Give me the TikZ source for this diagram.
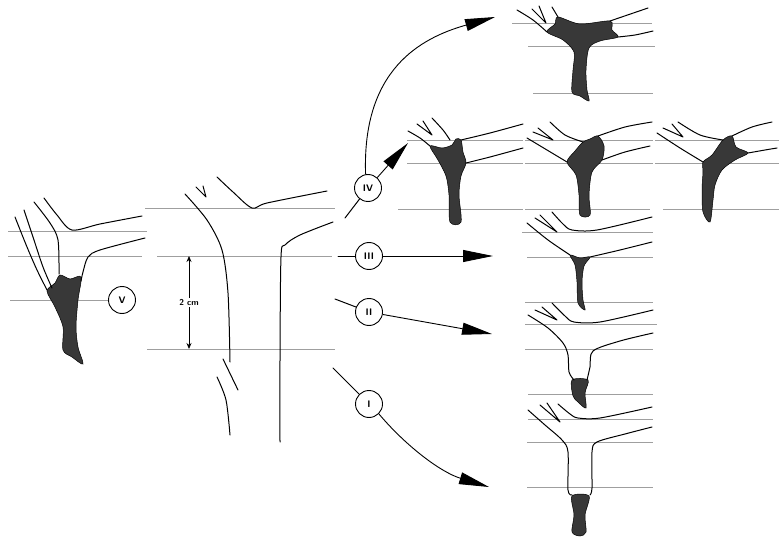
\documentclass[tikz,border=0pt]{standalone}
\usepackage{tikz}
\usetikzlibrary{arrows.meta,calc}

\begin{document}
\begin{tikzpicture}[x=1pt,y=-1pt,
    level/.style={gray!75,line width=0.8pt},
    wall/.style={line width=1pt,line cap=round,line join=round},
    clot/.style={fill=black!78,draw=black,line width=0.5pt},
    stage/.style={circle,draw,line width=0.9pt,minimum size=27pt,inner sep=0pt,fill=white,font=\sffamily\bfseries\fontsize{9.5}{9.5}\selectfont},
    big/.style={-{Triangle[length=30pt,width=12pt]},line width=0.9pt}]
\useasboundingbox (0,0) rectangle (779,540);

      \node[stage](cV) at (122,300){V};
      \node[stage](cIV) at (368,188){IV};
      \node[stage](cIII) at (369,256){III};
      \node[stage](cII) at (369,312){II};
      \node[stage](cI) at (369,404){I};

      \draw[level](8,231)--(147,231);
      \draw[level](8,256)--(142,256);
      \draw[level](10,300)--(cV);
      \fill[clot]plot[smooth cycle]coordinates{(47,291)(55,283)(60,275)(70,279)(81,277)(78,300)(76,327)(78,347)(83,364)(72,357)(63,350)(63,327)(55,307)};
      \draw[wall]plot[smooth]coordinates{(15,217)(27,247)(37,270)(47,290)};
      \draw[wall]plot[smooth]coordinates{(24,210)(33,237)(43,267)(52,288)};
      \draw[wall]plot[smooth]coordinates{(34,202)(50,223)(58,240)(59,274)};
      \draw[wall]plot[smooth]coordinates{(44,198)(57,215)(72,230)(100,224)(142,216)};
      \draw[wall]plot[smooth]coordinates{(145,238)(100,250)(88,257)(83,272)(81,281)};

      \draw[level](145,208)--(335,208);
      \draw[level](157,256)--(332,256);
      \draw[level](147,349)--(335,349);
      \draw[wall]plot[smooth]coordinates{(185,194)(207,220)(222,250)(228,293)(230,362)};
      \draw[wall](223,359)--(238,390);
      \draw[wall]plot[smooth]coordinates{(217,377)(226,400)(230,435)};
      \draw[wall](196,187)--(206,197)--(203,186);
      \draw[wall]plot[smooth]coordinates{(217,177)(233,192)(252,208)(267,203)(327,191)};
      \draw[wall]plot[smooth]coordinates{(333,222)(300,235)(285,245)(281,257)(280,360)(280,442)};
      \coordinate(top) at (189,256);
      \coordinate(bot) at (189,349);
      \draw[{Stealth[length=6pt,width=5pt]}-{Stealth[length=6pt,width=5pt]},line width=0.8pt](top)--(bot)
        node[midway,fill=white,inner sep=1pt,font=\sffamily\bfseries\fontsize{8.5}{8.5}\selectfont]{2 cm};

      \coordinate(inIV) at (345,218);
      \coordinate(tipIVa) at (408,143);
      \coordinate(tipIVb) at (495,17);
      \draw[wall](inIV)--(cIV);
      \draw[big](cIV)--(tipIVa);
      \draw[big](cIV.100) .. controls (362,70) and (420,38) .. (tipIVb);
      \coordinate(inIII) at (338,256);
      \coordinate(tipIII) at (493,256);
      \draw[wall](inIII)--(cIII);
      \draw[big](cIII)--(tipIII);
      \coordinate(inII) at (335,299);
      \coordinate(tipII) at (492,334);
      \draw[wall](inII)--(cII);
      \draw[big](cII)--(tipII);
      \coordinate(inI) at (333,368);
      \coordinate(tipI) at (489,487);
      \draw[wall](inI)--(cI);
      \draw[big](cI.-45) .. controls (405,445) and (440,472) .. (tipI);

      \draw[level](512,23)--(652,23);
      \draw[level](528,46)--(655,46);
      \draw[level](533,93)--(653,93);
      \fill[clot]plot[smooth cycle]coordinates{(547,32)(555,24)(558,17)(580,24)(610,21)(612,30)(618,37)(600,41)(589,48)(586,70)(587,90)(589,101)(580,96)(572,92)(573,70)(574,52)(563,40)};
      \draw[wall]plot[smooth]coordinates{(517,10)(533,20)(547,32)};
      \draw[wall](532,9)--(546,23)--(539,6);
      \draw[wall]plot[smooth]coordinates{(552,7)(558,17)};
      \draw[wall](610,21)--(648,8);
      \draw[wall]plot[smooth]coordinates{(618,37)(635,35)(653,31)};

      \draw[level](407,140)--(523,140);
      \draw[level](407,163)--(523,163);
      \draw[level](398,209)--(523,209);
      \fill[clot]plot[smooth cycle]coordinates{(430,146)(442,148)(452,145)(456,139)(461,140)(463,152)(466,163)(461,176)(459,195)(461,222)(450,222)(449,195)(446,176)(438,160)};
      \draw[wall]plot[smooth]coordinates{(408,131)(420,138)(430,146)};
      \draw[wall](417,124)--(432,135)--(423,121);
      \draw[wall]plot[smooth]coordinates{(432,118)(443,130)(450,140)};
      \draw[wall]plot[smooth]coordinates{(461,140)(490,133)(523,124)};
      \draw[wall]plot[smooth]coordinates{(466,163)(490,157)(523,148)};

      \draw[level](525,140)--(653,140);
      \draw[level](525,163)--(653,163);
      \draw[level](525,209)--(650,209);
      \fill[clot]plot[smooth cycle]coordinates{(567,162)(575,151)(583,142)(590,139)(598,136)(604,146)(602,160)(592,172)(589,195)(590,215)(580,215)(579,195)(576,175)};
      \draw[wall]plot[smooth]coordinates{(527,138)(547,150)(567,162)};
      \draw[wall](533,132)--(553,140)--(538,128);
      \draw[wall]plot[smooth]coordinates{(550,122)(565,135)(583,142)};
      \draw[wall]plot[smooth]coordinates{(598,136)(625,127)(652,122)};
      \draw[wall]plot[smooth]coordinates{(602,160)(625,152)(650,146)};

      \draw[level](655,140)--(779,140);
      \draw[level](655,163)--(779,163);
      \draw[level](663,209)--(779,209);
      \fill[clot]plot[smooth cycle]coordinates{(703,162)(712,155)(723,140)(732,136)(736,147)(748,153)(735,160)(722,170)(715,185)(713,200)(710,222)(703,212)(702,190)(703,172)};
      \draw[wall]plot[smooth]coordinates{(657,133)(680,148)(703,162)};
      \draw[wall](663,128)--(683,137)--(672,124);
      \draw[wall]plot[smooth]coordinates{(678,122)(700,135)(723,140)};
      \draw[wall]plot[smooth]coordinates{(732,136)(752,127)(772,122)};
      \draw[wall]plot[smooth]coordinates{(748,153)(765,150)(777,148)};

      \draw[level](522,232)--(653,232);
      \draw[level](527,257)--(653,257);
      \draw[level](525,302)--(653,302);
      \fill[clot]plot[smooth cycle]coordinates{(570,255)(580,258)(590,257)(584,266)(582,282)(583,300)(585,310)(578,303)(577,282)(575,265)};
      \draw[wall]plot[smooth]coordinates{(527,223)(548,240)(570,255)};
      \draw[wall](535,218)--(557,232)--(540,215);
      \draw[wall]plot[smooth]coordinates{(552,212)(563,224)(572,230)(597,230)(652,217)};
      \draw[wall]plot[smooth]coordinates{(590,257)(620,250)(652,242)};

      \draw[level](525,324)--(657,324);
      \draw[level](525,349)--(653,349);
      \draw[level](528,394)--(653,394);
      \fill[clot]plot[smooth cycle]coordinates{(572,380)(588,380)(585,393)(586,408)(578,402)(573,396)};
      \draw[wall]plot[smooth]coordinates{(528,315)(548,328)(563,343)(568,355)(569,372)(574,380)};
      \draw[wall]plot[smooth]coordinates{(587,380)(590,367)(593,351)(620,341)(653,333)};
      \draw[wall](535,310)--(557,320)--(542,307);
      \draw[wall]plot[smooth]coordinates{(552,303)(565,316)(574,322)(600,322)(653,310)};

      \draw[level](528,419)--(653,419);
      \draw[level](527,442)--(653,442);
      \draw[level](527,487)--(653,487);
      \fill[clot]plot[smooth cycle]coordinates{(572,496)(589,496)(585,515)(586,532)(580,536)(572,532)(574,515)};
      \draw[wall]plot[smooth]coordinates{(528,410)(545,425)(562,440)(568,452)(568,490)(572,495)};
      \draw[wall]plot[smooth]coordinates{(590,495)(592,488)(592,452)(597,442)(625,434)(652,427)};
      \draw[wall](540,405)--(560,422)--(547,403);
      \draw[wall]plot[smooth]coordinates{(558,404)(570,414)(578,418)(600,418)(652,407)};
    \end{tikzpicture}
\end{document}
